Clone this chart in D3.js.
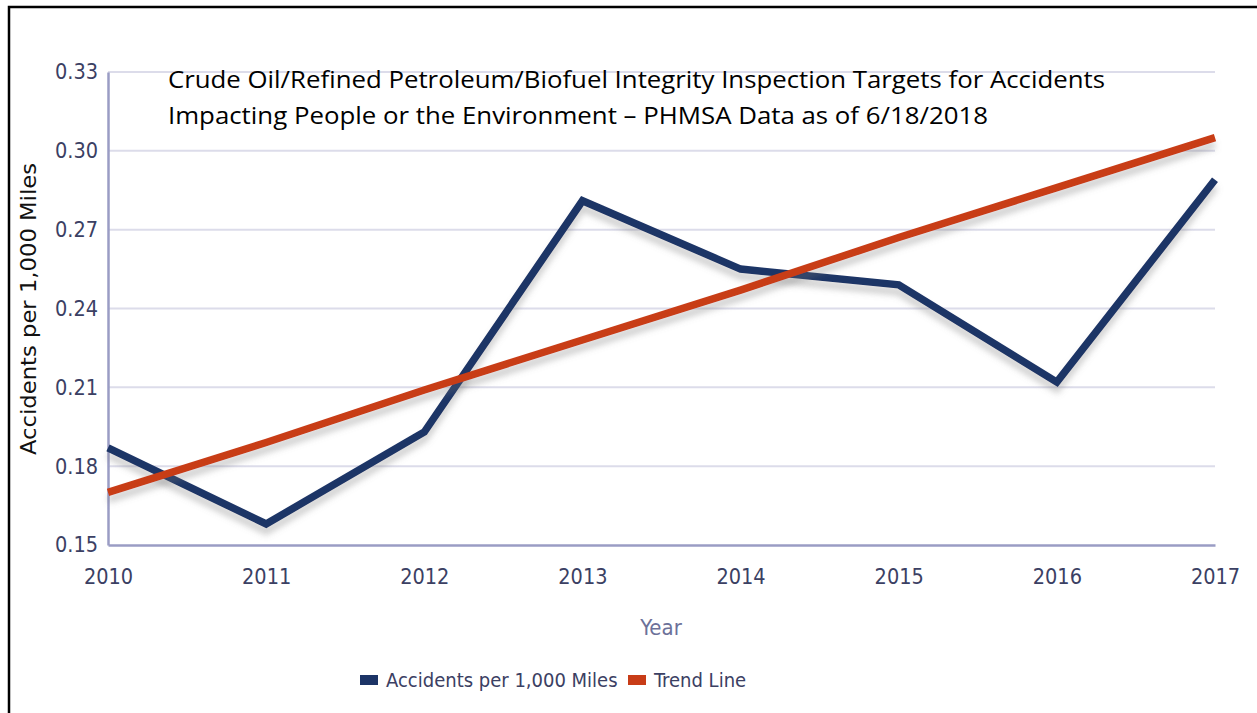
<!DOCTYPE html>
<html>
<head>
<meta charset="utf-8">
<script src="https://cdn.jsdelivr.net/npm/d3@7"></script>
<style>
  body { margin: 0; background: #fff; }
  svg { display: block; }
</style>
</head>
<body>
<svg id="chart" width="1257" height="713"></svg>
<script>
// data
const years = [2010, 2011, 2012, 2013, 2014, 2015, 2016, 2017];
const accidents = [0.187, 0.158, 0.193, 0.281, 0.255, 0.249, 0.212, 0.289];
const trend = [0.170, 0.189, 0.209, 0.228, 0.247, 0.267, 0.286, 0.305];
const yTicks = [0.15, 0.18, 0.21, 0.24, 0.27, 0.30, 0.33];
const titleLines = [
  "Crude Oil/Refined Petroleum/Biofuel Integrity Inspection Targets for Accidents",
  "Impacting People or the Environment \u2013 PHMSA Data as of 6/18/2018"
];
const legendNames = ["Accidents per 1,000 Miles", "Trend Line"];
const colors = ["#1c3466", "#c83c17"];

const svg = d3.select("#chart");
const tickFont = "'DejaVu Sans Condensed', 'DejaVu Sans', sans-serif";

// plot area
const plotL = 108, plotR = 1215, plotT = 72, plotB = 545;
const x = d3.scaleLinear().domain([2010, 2017]).range([plotL, plotR]);
const y = d3.scaleLinear().domain([0.15, 0.33]).range([plotB, plotT]);

// frame around the picture
svg.append("path")
  .attr("d", `M9,713 V7 H1257`)
  .attr("fill", "none")
  .attr("stroke", "#000")
  .attr("stroke-width", 2.5);

// shadow filter for the lines
const defs = svg.append("defs");
const f = defs.append("filter").attr("id", "shadow")
  .attr("x", "-10%").attr("y", "-20%").attr("width", "120%").attr("height", "150%");
f.append("feDropShadow")
  .attr("dx", 0).attr("dy", 7)
  .attr("stdDeviation", 3)
  .attr("flood-color", "#777")
  .attr("flood-opacity", 0.35);

// gridlines
svg.append("g")
  .selectAll("line")
  .data(yTicks.slice(1))
  .join("line")
  .attr("x1", plotL).attr("x2", plotR)
  .attr("y1", d => y(d)).attr("y2", d => y(d))
  .attr("stroke", "#dcdcea")
  .attr("stroke-width", 2);

// y axis
const yAxis = svg.append("g")
  .attr("transform", `translate(${plotL},0)`)
  .call(d3.axisLeft(y).tickValues(yTicks).tickFormat(d3.format(".2f")).tickSize(0).tickPadding(10));
yAxis.select(".domain").attr("stroke", "#9a9cc4").attr("stroke-width", 2.5);
yAxis.selectAll("text")
  .attr("font-family", tickFont)
  .attr("font-size", 21.5)
  .attr("fill", "#3b4063");

// x axis
const xAxis = svg.append("g")
  .attr("transform", `translate(0,${plotB})`)
  .call(d3.axisBottom(x).tickValues(years).tickFormat(d3.format("d")).tickSize(0).tickPadding(24));
xAxis.select(".domain").attr("stroke", "#9a9cc4").attr("stroke-width", 2.5);
xAxis.selectAll("text")
  .attr("font-family", tickFont)
  .attr("font-size", 21.5)
  .attr("fill", "#3b4063");

// axis titles
svg.append("text")
  .attr("x", 661).attr("y", 635)
  .attr("text-anchor", "middle")
  .attr("font-family", tickFont)
  .attr("font-size", 22)
  .attr("fill", "#6c7199")
  .text("Year");

svg.append("text")
  .attr("transform", "translate(36,309) rotate(-90)")
  .attr("text-anchor", "middle")
  .attr("font-family", "'DejaVu Sans', sans-serif")
  .attr("font-size", 21)
  .attr("fill", "#111")
  .attr("textLength", 292)
  .attr("lengthAdjust", "spacingAndGlyphs")
  .text("Accidents per 1,000 Miles");

// lines
const line = d3.line().x((d, i) => x(years[i])).y(d => y(d));
[accidents, trend].forEach((series, k) => {
  svg.append("path")
    .datum(series)
    .attr("d", line)
    .attr("fill", "none")
    .attr("stroke", colors[k])
    .attr("stroke-width", 7.5)
    .attr("stroke-linejoin", "miter")
    .attr("filter", "url(#shadow)");
});

// title
svg.append("g")
  .selectAll("text")
  .data(titleLines)
  .join("text")
  .attr("x", 168)
  .attr("y", (d, i) => 88 + i * 36)
  .attr("font-family", "'Open Sans', sans-serif")
  .attr("font-size", 23)
  .attr("fill", "#000")
  .attr("textLength", (d, i) => i === 0 ? 937 : 820)
  .attr("lengthAdjust", "spacingAndGlyphs")
  .text(d => d);

// legend
const legendX = [360, 628];
const legend = svg.append("g")
  .selectAll("g")
  .data(legendNames)
  .join("g")
  .attr("transform", (d, i) => `translate(${legendX[i]},680)`);
legend.append("rect")
  .attr("x", 0).attr("y", -5)
  .attr("width", 18).attr("height", 10)
  .attr("fill", (d, i) => colors[i]);
legend.append("text")
  .attr("x", 26).attr("y", 7)
  .attr("font-family", tickFont)
  .attr("font-size", 20)
  .attr("fill", "#3b4063")
  .text(d => d);
</script>
</body>
</html>
